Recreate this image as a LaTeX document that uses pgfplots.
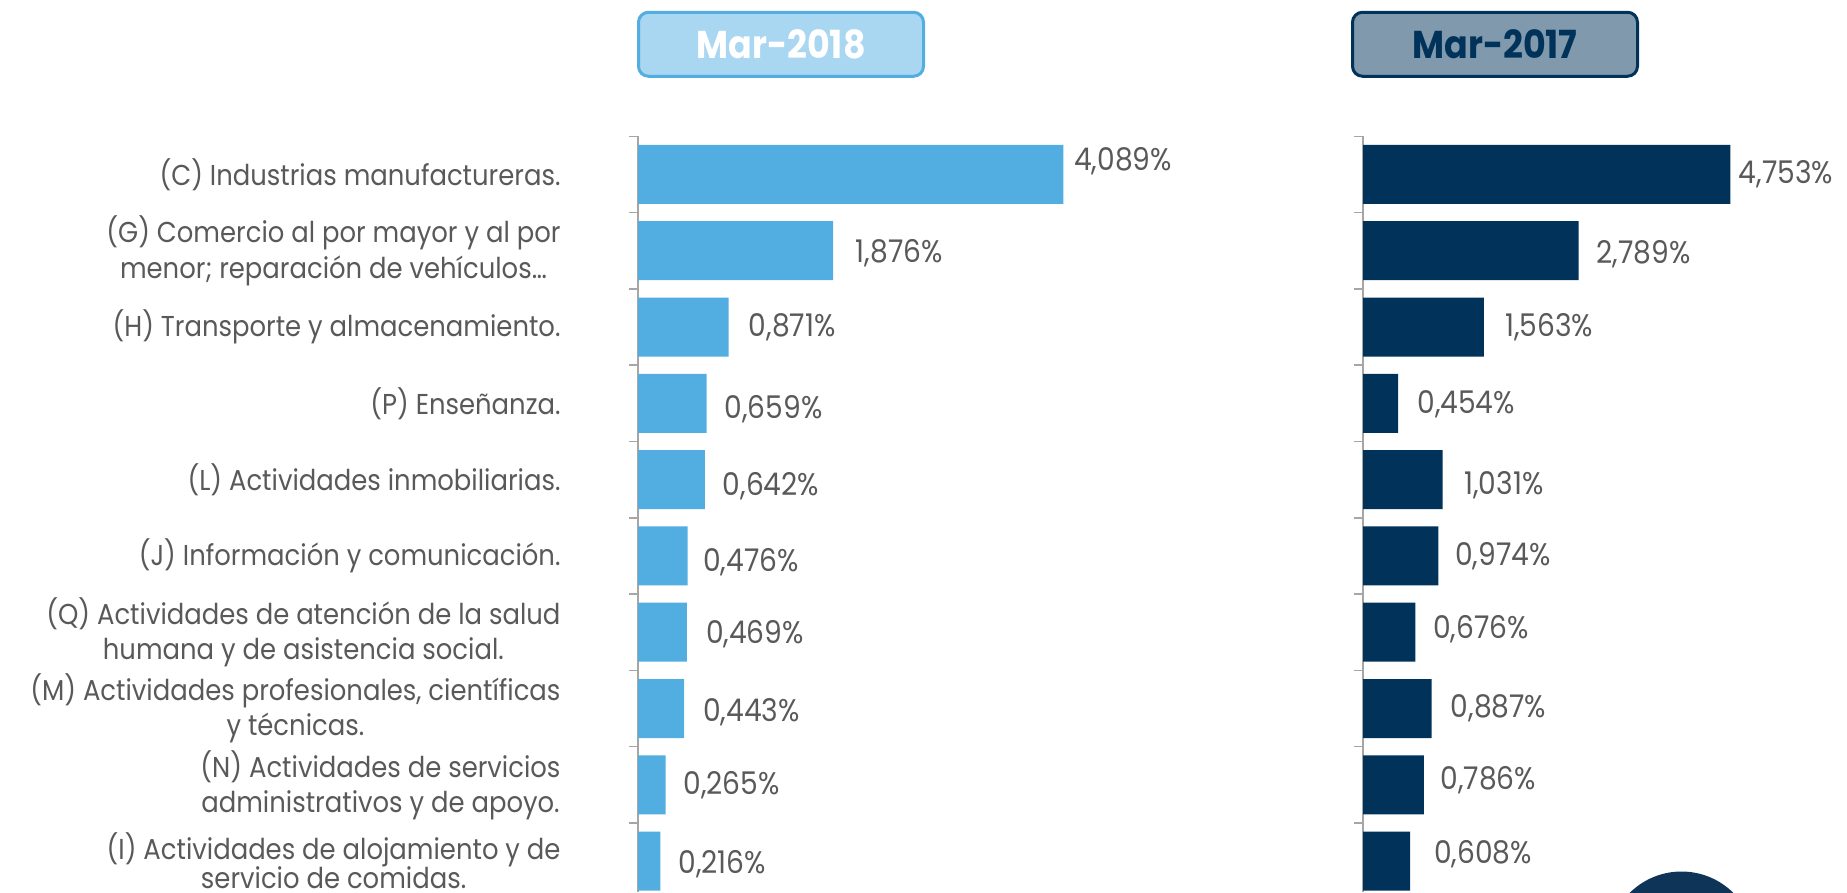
\documentclass[border=0pt]{standalone}
\usepackage{pgfplots}
\usepackage{pgfplotstable}
\pgfplotsset{compat=1.18}
\usepackage{fontspec}
\setmainfont{Poppins}[FakeStretch=0.9]
\definecolor{lblue}{HTML}{52AEE0}
\definecolor{navy}{HTML}{00325A}
\definecolor{boxA}{HTML}{A9D6F1}
\definecolor{boxB}{HTML}{8099AD}
\definecolor{txt}{HTML}{595959}
\definecolor{axgray}{HTML}{A6A6A6}
\definecolor{circ}{HTML}{0E3558}
% x = value (%), y = category index, dx/dy = small label offsets (pt), lab = label
\pgfplotstableread{
x     y dx   dy   lab
4.089 0 -2.8 -5.2 {4,089\%}
1.876 1 1.9  0.9  {1,876\%}
0.871 2 0.9  0    {0,871\%}
0.659 3 0    2.4  {0,659\%}
0.642 4 0    2.8  {0,642\%}
0.476 5 -0.9 2.4  {0,476\%}
0.469 6 0.5  0.9  {0,469\%}
0.443 7 0.5  1.4  {0,443\%}
0.265 8 0    0    {0,265\%}
0.216 9 0    1.4  {0,216\%}
}\dataA
\pgfplotstableread{
x     y dx   dy   lab
4.753 0 -3.8 0    {4,753\%}
2.789 1 0    1.4  {2,789\%}
1.563 2 1.4  0    {1,563\%}
0.454 3 0.5  0.5  {0,454\%}
1.031 4 1.4  2.4  {1,031\%}
0.974 5 -0.5 0    {0,974\%}
0.676 6 0    -1.4 {0,676\%}
0.887 7 0.5  0    {0,887\%}
0.786 8 -0.5 -1.9 {0,786\%}
0.608 9 2.4  -2.8 {0,608\%}
}\dataB
\begin{document}
\begin{tikzpicture}
\useasboundingbox (0,0) rectangle (738.8pt,-356.8pt);
\clip (0,0) rectangle (738.8pt,-356.8pt);
\pgfplotsset{
  mybars/.style={
    anchor=north west, y=30.52pt, y dir=reverse,
    xmin=0, ymin=-0.5, ymax=9.405,
    axis x line=none, axis y line=left,
    axis line style={-, draw=axgray, line width=0.6pt},
    xtick=\empty,
    ytick={0,...,9},
    major tick length=0pt,
    extra y ticks={-0.5,0.5,...,9.5},
    extra y tick labels={},
    extra y tick style={major tick length=3.5pt, tick align=outside,
      tick style={draw=axgray, line width=0.6pt}},
    clip=false,
  },
  mybarplot/.style={
    xbar, draw=none, bar width=23.6pt,
    nodes near coords,
    point meta=explicit symbolic,
    visualization depends on={\thisrow{dx} \as \dx},
    visualization depends on={\thisrow{dy} \as \dy},
    nodes near coords style={anchor=west, inner sep=0pt,
      xshift={(7+\dx)*1pt}, yshift={-\dy*1pt},
      font=\fontsize{12.5}{14}\selectfont, text=txt},
  }
}
% Left chart: Mar-2018
\begin{axis}[mybars, at={(255.2pt,-54.5pt)}, x=41.6pt, xmax=4.6,
  yticklabel style={align=center, anchor=east, inner sep=0pt, xshift=-30.8pt,
    font=\fontsize{11.5}{14}\selectfont, text=txt},
  yticklabels={
    {(C) Industrias manufactureras.},
    {(G) Comercio al por mayor y al por\\[0.6pt]menor; reparación de vehículos…},
    {(H) Transporte y almacenamiento.},
    {(P) Enseñanza.},
    {(L) Actividades inmobiliarias.},
    {(J) Información y comunicación.},
    {(Q) Actividades de atención de la salud\\humana y de asistencia social.},
    {(M) Actividades profesionales, científicas\\y técnicas.},
    {(N) Actividades de servicios\\administrativos y de apoyo.},
    {(I) Actividades de alojamiento y de\\[-2.4pt]servicio de comidas.}
  }]
\addplot[mybarplot, fill=lblue] table[x=x, y=y, meta=lab] {\dataA};
\end{axis}
% Right chart: Mar-2017
\begin{axis}[mybars, at={(545.2pt,-54.5pt)}, x=30.92pt, xmax=5.8,
  yticklabels={}]
\addplot[mybarplot, fill=navy] table[x=x, y=y, meta=lab] {\dataB};
\end{axis}
% Title boxes
\node[draw=lblue, fill=boxA, line width=1.2pt, rounded corners=4pt,
  minimum width=114pt, minimum height=25.6pt, inner sep=0pt,
  text=white, font=\fontsize{15.5}{18}\selectfont\bfseries]
  at (312.4pt,-17.7pt) {Mar-2018};
\node[draw=navy, fill=boxB, line width=1.2pt, rounded corners=4pt,
  minimum width=114pt, minimum height=25.6pt, inner sep=0pt,
  text=navy, font=\fontsize{15.5}{18}\selectfont\bfseries]
  at (598pt,-17.7pt) {Mar-2017};
% decorative circle
\fill[circ] (672.6pt,-378pt) circle (29.4pt);
\end{tikzpicture}
\end{document}
